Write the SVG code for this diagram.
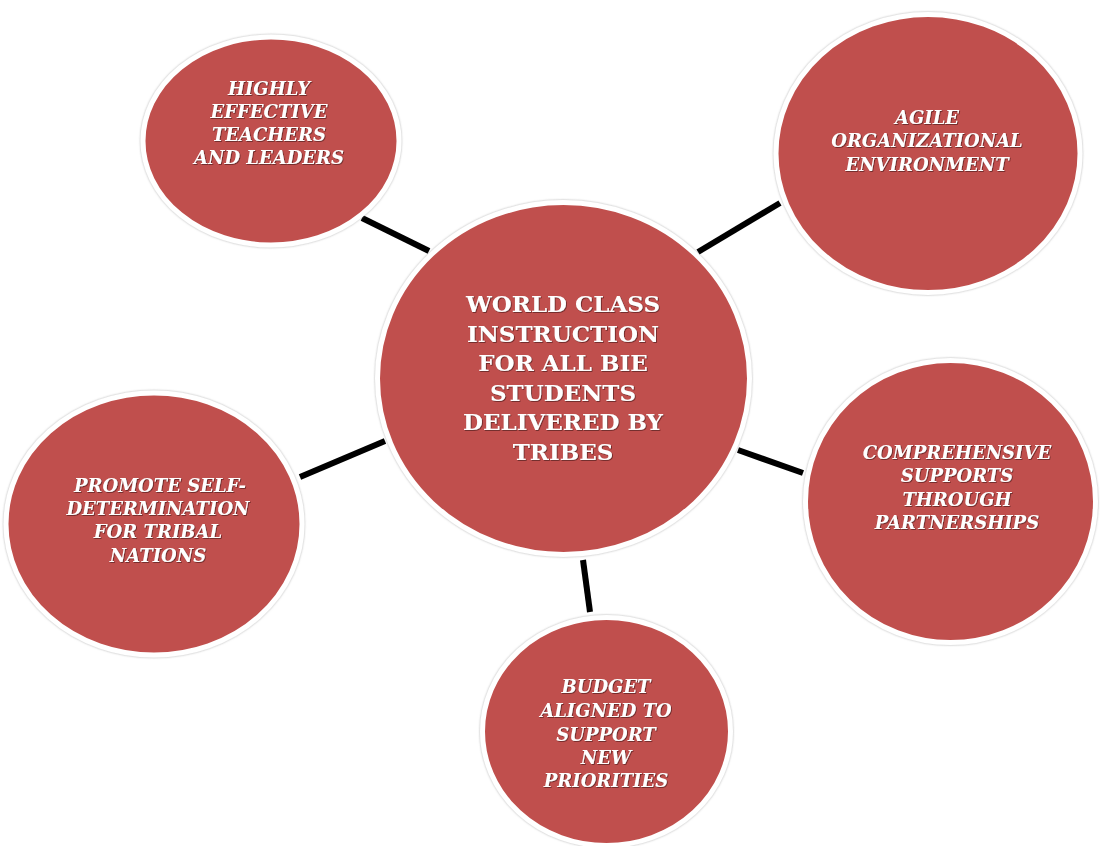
<svg xmlns="http://www.w3.org/2000/svg" width="1113" height="846" viewBox="0 0 1113 846">
<defs>
<filter id="sh" x="-10%" y="-10%" width="120%" height="120%">
<feDropShadow dx="0" dy="0" stdDeviation="1.2" flood-color="#8c8c8c" flood-opacity="0.7"/>
</filter>
<filter id="ts" x="-5%" y="-20%" width="110%" height="140%">
<feDropShadow dx="0.8" dy="0.8" stdDeviation="0.4" flood-color="#4a1412" flood-opacity="0.8"/>
</filter>
</defs>
<style>
.node{fill:#C0504D;stroke:#ffffff;stroke-width:5;filter:url(#sh)}
.conn{stroke:#000000;stroke-width:6;stroke-linecap:butt;fill:none}
.sat{font-family:"DejaVu Serif","Liberation Serif",serif;font-weight:bold;font-style:italic;font-size:18px;fill:#ffffff;text-anchor:middle;filter:url(#ts)}
.ctr{font-family:"DejaVu Serif","Liberation Serif",serif;font-weight:bold;font-size:23px;fill:#ffffff;text-anchor:middle;filter:url(#ts)}
</style>
<rect width="1113" height="846" fill="#ffffff"/>
<g id="connectors">
<line class="conn" x1="362" y1="218" x2="429" y2="251"/>
<line class="conn" x1="698" y1="252" x2="780" y2="203"/>
<line class="conn" x1="300" y1="477" x2="385" y2="441"/>
<line class="conn" x1="738" y1="450" x2="803" y2="473"/>
<line class="conn" x1="583" y1="560" x2="590" y2="612"/>
</g>
<g id="node-center">
<ellipse class="node" cx="563.5" cy="378.5" rx="186" ry="176"/>
<text class="ctr" x="563" y="312">WORLD CLASS</text>
<text class="ctr" x="563" y="341.6">INSTRUCTION</text>
<text class="ctr" x="563" y="371.2">FOR ALL BIE</text>
<text class="ctr" x="563" y="400.8">STUDENTS</text>
<text class="ctr" x="563" y="430.4">DELIVERED BY</text>
<text class="ctr" x="563" y="460">TRIBES</text>
</g>
<g id="node-teachers">
<ellipse class="node" cx="271" cy="141" rx="128" ry="104"/>
<text class="sat" x="269" y="95">HIGHLY</text>
<text class="sat" x="269" y="118">EFFECTIVE</text>
<text class="sat" x="269" y="141">TEACHERS</text>
<text class="sat" x="269" y="164">AND LEADERS</text>
</g>
<g id="node-agile">
<ellipse class="node" cx="928" cy="153.5" rx="152" ry="139"/>
<text class="sat" x="927" y="124">AGILE</text>
<text class="sat" x="927" y="147">ORGANIZATIONAL</text>
<text class="sat" x="927" y="170.5">ENVIRONMENT</text>
</g>
<g id="node-comprehensive">
<ellipse class="node" cx="950.5" cy="501.5" rx="145" ry="141"/>
<text class="sat" x="957" y="459">COMPREHENSIVE</text>
<text class="sat" x="957" y="482">SUPPORTS</text>
<text class="sat" x="957" y="505.5">THROUGH</text>
<text class="sat" x="957" y="528.5">PARTNERSHIPS</text>
</g>
<g id="node-budget">
<ellipse class="node" cx="606.5" cy="731.5" rx="124" ry="114"/>
<text class="sat" x="606" y="693.3">BUDGET</text>
<text class="sat" x="606" y="717">ALIGNED TO</text>
<text class="sat" x="606" y="740.5">SUPPORT</text>
<text class="sat" x="606" y="764">NEW</text>
<text class="sat" x="606" y="787">PRIORITIES</text>
</g>
<g id="node-self-determination">
<ellipse class="node" cx="154" cy="524" rx="148" ry="131"/>
<text class="sat" x="160" y="491.7">PROMOTE SELF-</text>
<text class="sat" x="158" y="515">DETERMINATION</text>
<text class="sat" x="158" y="538.3">FOR TRIBAL</text>
<text class="sat" x="158" y="561.7">NATIONS</text>
</g>
</svg>
